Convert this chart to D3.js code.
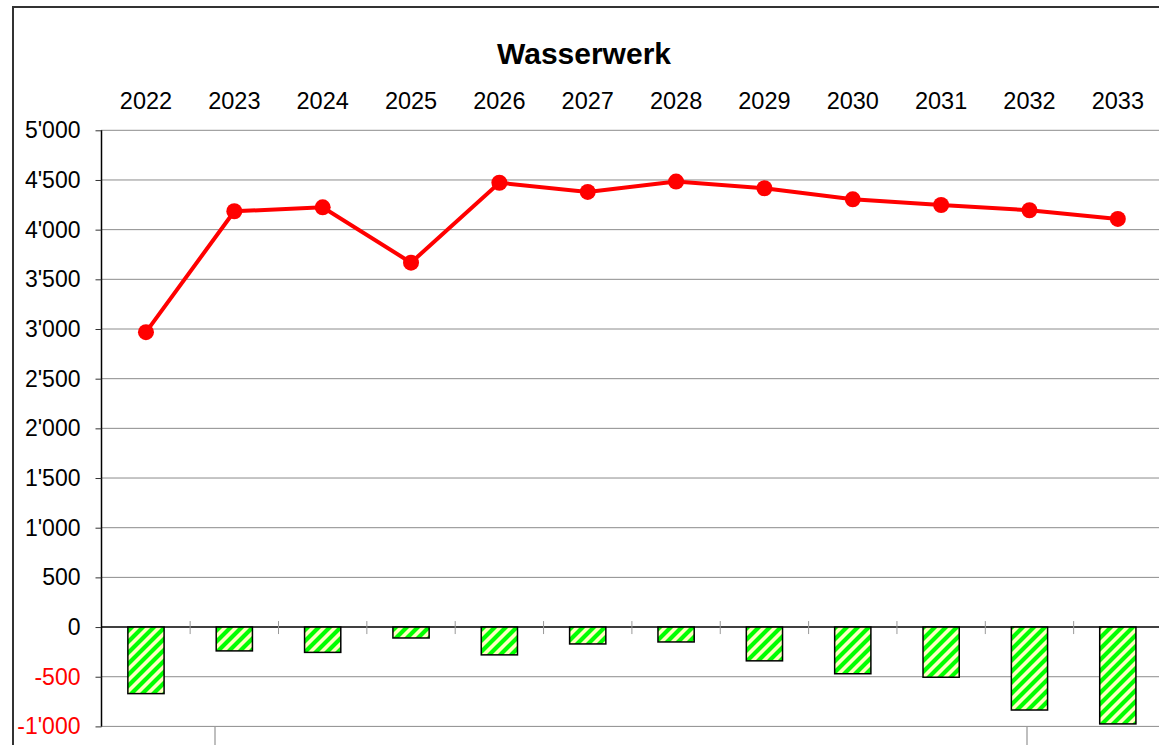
<!DOCTYPE html>
<html>
<head>
<meta charset="utf-8">
<script src="https://cdn.jsdelivr.net/npm/d3@7"></script>
<style>
  body { margin: 0; background: #fff; }
  svg { display: block; font-family: "Liberation Sans", Arial, sans-serif; }
</style>
</head>
<body>
<svg id="chart" width="1159" height="745"></svg>
<script>
// values
var years = ['2022', '2023', '2024', '2025', '2026', '2027', '2028', '2029', '2030', '2031', '2032', '2033'];
var lineValues = [2968, 4185, 4225, 3668, 4472, 4380, 4484, 4417, 4305, 4248, 4195, 4108];
var barValues = [-670, -240, -255, -110, -280, -170, -150, -340, -470, -505, -835, -975];
var yTicks = [-1000, -500, 0, 500, 1000, 1500, 2000, 2500, 3000, 3500, 4000, 4500, 5000];

var svg = d3.select('#chart');

// swiss style thousands separator
var fmt = d3.formatLocale({
    decimal: '.', thousands: "'", grouping: [3], currency: ['', ''], minus: '-'
}).format(',d');

var x = d3.scaleBand().domain(years).range([101.8, 1162]);
var y = d3.scaleLinear().domain([-1000, 5000]).range([726.4, 130.3]);

// hatch pattern for the bars
var pat = svg.append('defs').append('pattern')
    .attr('id', 'hatch')
    .attr('patternUnits', 'userSpaceOnUse')
    .attr('width', 11).attr('height', 11);
pat.append('rect').attr('width', 11).attr('height', 11).attr('fill', '#ffffc0');
pat.append('path')
    .attr('d', 'M-3,3 L3,-3 M0,11 L11,0 M8,14 L14,8')
    .attr('stroke', '#00ff00')
    .attr('stroke-width', 4.2);

// outer chart border
svg.append('rect')
    .attr('x', 13).attr('y', 7)
    .attr('width', 1170).attr('height', 760)
    .attr('fill', 'none')
    .attr('stroke', '#333')
    .attr('stroke-width', 2);

// gridlines
svg.append('g').selectAll('line')
    .data(yTicks.filter(function(d) { return d !== 0; }))
    .enter().append('line')
    .attr('x1', 101).attr('x2', 1162)
    .attr('y1', function(d) { return y(d); })
    .attr('y2', function(d) { return y(d); })
    .attr('stroke', '#8c8c8c')
    .attr('stroke-width', 1);

// odd lines below the plot
svg.append('g').selectAll('line')
    .data([215, 1027])
    .enter().append('line')
    .attr('x1', function(d) { return d; }).attr('x2', function(d) { return d; })
    .attr('y1', 727).attr('y2', 745)
    .attr('stroke', '#aaa').attr('stroke-width', 1.5);

// y axis
var yAxis = svg.append('g')
    .attr('transform', 'translate(101.5,0)')
    .call(d3.axisLeft(y).tickValues(yTicks).tickSize(6).tickPadding(15).tickFormat(fmt));
yAxis.select('.domain').attr('stroke', '#000').attr('stroke-width', 1.5)
    .attr('d', 'M0,' + y(5000) + 'V' + y(-1000));
yAxis.selectAll('.tick line').attr('stroke', '#333');
yAxis.selectAll('.tick text')
    .attr('font-size', '23px')
    .attr('font-family', '"Liberation Sans", Arial, sans-serif')
    .attr('fill', function(d) { return d < 0 ? '#ff0000' : '#000'; });

// zero line with category ticks
svg.append('line')
    .attr('x1', 101).attr('x2', 1162)
    .attr('y1', y(0)).attr('y2', y(0))
    .attr('stroke', '#000').attr('stroke-width', 1.5);
svg.append('g').selectAll('line')
    .data(years.slice(1))
    .enter().append('line')
    .attr('x1', function(d) { return x(d); }).attr('x2', function(d) { return x(d); })
    .attr('y1', y(0) - 6).attr('y2', y(0) + 7)
    .attr('stroke', '#999').attr('stroke-width', 1);

// year labels on top
svg.append('g').selectAll('text')
    .data(years)
    .enter().append('text')
    .attr('x', function(d) { return x(d) + x.bandwidth() / 2; })
    .attr('y', 109)
    .attr('text-anchor', 'middle')
    .attr('font-size', '23.5px')
    .text(function(d) { return d; });

// title
svg.append('text')
    .attr('x', 584).attr('y', 64)
    .attr('text-anchor', 'middle')
    .attr('font-size', '30px')
    .attr('font-weight', 'bold')
    .text('Wasserwerk');

// bars
var bw = x.bandwidth() * 0.41;
svg.append('g').selectAll('rect')
    .data(barValues)
    .enter().append('rect')
    .attr('x', function(d, i) { return x(years[i]) + x.bandwidth() / 2 - bw / 2; })
    .attr('y', function(d) { return y(Math.max(0, d)); })
    .attr('width', bw)
    .attr('height', function(d) { return Math.abs(y(d) - y(0)); })
    .attr('fill', 'url(#hatch)')
    .attr('stroke', '#000')
    .attr('stroke-width', 1.5);

// line with markers
var line = d3.line()
    .x(function(d, i) { return x(years[i]) + x.bandwidth() / 2; })
    .y(function(d) { return y(d); });

svg.append('path')
    .datum(lineValues)
    .attr('d', line)
    .attr('fill', 'none')
    .attr('stroke', '#ff0000')
    .attr('stroke-width', 4);

svg.append('g').selectAll('circle')
    .data(lineValues)
    .enter().append('circle')
    .attr('cx', function(d, i) { return x(years[i]) + x.bandwidth() / 2; })
    .attr('cy', function(d) { return y(d); })
    .attr('r', 8)
    .attr('fill', '#ff0000');
</script>
</body>
</html>
